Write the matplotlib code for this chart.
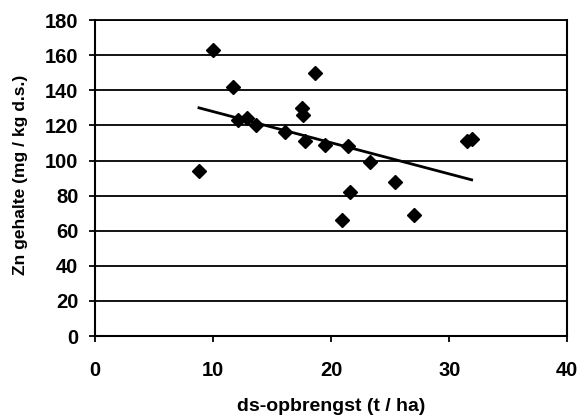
import matplotlib
matplotlib.use('Agg')
import matplotlib.pyplot as plt

# Opbrengst (t ds / ha) en Zn gehalte (mg / kg d.s.)
ds_opbrengst = [8.8, 10.0, 11.7, 12.1, 12.9, 13.6, 16.1, 17.5, 17.6, 17.8,
                18.6, 19.5, 21.4, 21.6, 20.9, 23.3, 25.4, 27.0, 31.5, 31.9]
zn_gehalte = [94, 163, 142, 123, 124, 120, 116, 130, 126, 111,
              150, 109, 108, 82, 66, 99, 88, 69, 111, 112]

# Trendlijn (eindpunten)
trend_x = [8.8, 31.9]
trend_y = [130, 89]

x_ticks = [0, 10, 20, 30, 40]
y_ticks = [0, 20, 40, 60, 80, 100, 120, 140, 160, 180]

plt.rcParams['font.family'] = ['Liberation Sans', 'DejaVu Sans']
plt.rcParams['font.weight'] = 'bold'

fig = plt.figure(figsize=(5.8, 4.18), dpi=100)
ax = fig.add_axes([0.164, 0.196, 0.814, 0.756])

ax.plot(ds_opbrengst, zn_gehalte, linestyle='none', marker='D',
        markersize=7, color='black', zorder=3)
ax.plot(trend_x, trend_y, color='black', linewidth=2, zorder=4)

ax.set_xlim(0, 40)
ax.set_ylim(0, 180)
ax.set_xticks(x_ticks)
ax.set_yticks(y_ticks)
ax.yaxis.grid(True, color='black', linewidth=1.3)
ax.set_axisbelow(True)

for side in ['left', 'bottom', 'right', 'top']:
    ax.spines[side].set_color('black')
    ax.spines[side].set_linewidth(1.5)
ax.spines['top'].set_linewidth(1.3)

ax.tick_params(axis='y', direction='out', length=4, width=1.3, pad=8,
               labelsize=14.5)
ax.tick_params(axis='x', direction='out', length=4, width=1.3, pad=14,
               labelsize=14.5)
for lbl in ax.get_xticklabels() + ax.get_yticklabels():
    lbl.set_fontweight('bold')

ax.set_xlabel('ds-opbrengst (t / ha)', fontsize=14, fontweight='bold')
ax.set_ylabel('Zn gehalte (mg / kg d.s.)', fontsize=12.5, fontweight='bold')
ax.xaxis.set_label_coords(0.50, -0.195)
ax.yaxis.set_label_coords(-0.142, 0.51)

fig.savefig('out.png', dpi=100)
